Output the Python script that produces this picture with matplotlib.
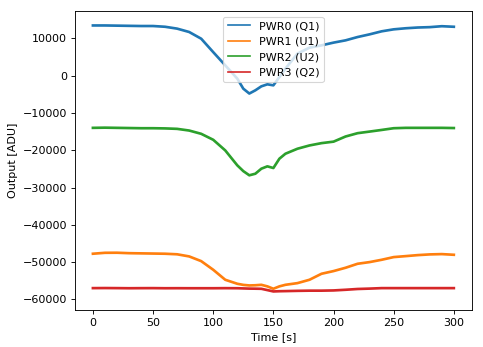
import numpy as np
import matplotlib
matplotlib.use('Agg')
import matplotlib.pyplot as plt

# Sample times [s]
time_s = [0, 10, 20, 30, 40, 50, 60, 70, 80, 90, 100, 110, 120, 125, 130,
          135, 140, 145, 150, 155, 160, 170, 180, 190, 200, 210, 220, 230,
          240, 250, 260, 270, 280, 290, 300]

# Detector outputs [ADU]
pwr0_q1 = [13450, 13450, 13400, 13350, 13300, 13300, 13100, 12600, 11700,
           9900, 6300, 2760, -800, -3500, -4800, -3940, -2870, -2330, -2600,
           -370, 1870, 5900, 7500, 8120, 8850, 9460, 10350, 11070, 11880,
           12410, 12700, 12900, 13000, 13250, 13100]
pwr1_u1 = [-47750, -47500, -47480, -47600, -47650, -47700, -47750, -47900,
           -48470, -49730, -52050, -54730, -55800, -56100, -56250, -56200,
           -56080, -56500, -57140, -56500, -56080, -55630, -54730, -53120,
           -52400, -51510, -50440, -49990, -49370, -48650, -48390, -48120,
           -47930, -47850, -48030]
pwr2_u2 = [-14000, -13950, -14000, -14050, -14100, -14100, -14150, -14270,
           -14720, -15600, -17200, -20050, -24050, -25600, -26720, -26300,
           -24950, -24320, -24770, -22270, -20940, -19600, -18720, -18100,
           -17700, -16320, -15430, -15000, -14560, -14100, -14000, -14000,
           -14000, -14000, -14050]
pwr3_q2 = [-56970, -56950, -56970, -57000, -56980, -56970, -57000, -56990,
           -57000, -57000, -57000, -56980, -57000, -57050, -57100, -57120,
           -57150, -57500, -57860, -57800, -57770, -57700, -57650, -57650,
           -57590, -57410, -57200, -57100, -56970, -56970, -56970, -56970,
           -56970, -56970, -56970]

series = [
    ('PWR0 (Q1)', pwr0_q1),
    ('PWR1 (U1)', pwr1_u1),
    ('PWR2 (U2)', pwr2_u2),
    ('PWR3 (Q2)', pwr3_q2),
]

DPI = 80
fig = plt.figure(figsize=(483 / DPI, 347 / DPI), dpi=DPI)
ax = fig.add_axes([0.155, 0.107, 0.822, 0.861])

for label, values in series:
    ax.plot(time_s, values, lw=2.4, label=label)

ax.set_xlim(-15, 315)
ax.set_ylim(-62800, 17300)
ax.set_xlabel('Time [s]')
ax.set_ylabel('Output [ADU]')
leg = ax.legend(loc='upper center')
for h in leg.get_lines():
    h.set_linewidth(1.5)

fig.savefig('out.png', dpi=DPI)
